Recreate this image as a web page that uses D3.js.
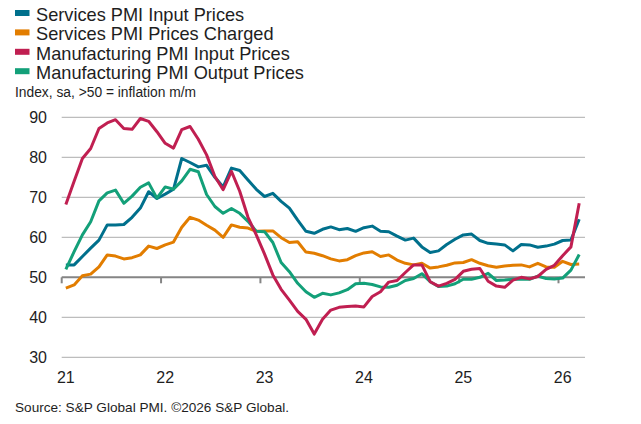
<!DOCTYPE html>
<html>
<head>
<meta charset="utf-8">
<script src="https://cdn.jsdelivr.net/npm/d3@7"></script>
<style>
  html, body { margin: 0; padding: 0; background: #fff; }
  svg { display: block; }
  text { font-family: "Liberation Sans", Arial, sans-serif; fill: #1e1e1e; }
</style>
</head>
<body>
<svg id="chart" width="641" height="424"></svg>
<script>
// ---- data (monthly, Jan 2021 - Mar 2026) ----
const startYear = 2021;
const yearLabels = ["21", "22", "23", "24", "25", "26"];
const yTicks = [30, 40, 50, 60, 70, 80, 90];

const seriesNames = [
  "Services PMI Input Prices",
  "Services PMI Prices Charged",
  "Manufacturing PMI Input Prices",
  "Manufacturing PMI Output Prices"
];
const seriesColors = ["#00708c", "#e27d00", "#c01f51", "#13a079"];

const servicesInput = [
  53.1, 53.1, 55.2, 57.3, 59.3, 63.1, 63.1, 63.2, 65.0, 67.3, 71.4, 69.7,
  70.8, 72.0, 79.7, 78.7, 77.6, 78.0, 75.0, 72.6, 77.3, 76.7, 74.3, 72.0,
  70.2, 71.0, 69.0, 67.3, 64.3, 61.5, 61.0, 62.0, 62.6, 61.9, 62.2, 61.5,
  62.4, 62.8, 61.5, 61.4, 60.3, 59.3, 59.8, 57.6, 56.2, 56.6, 58.2, 59.5,
  60.6, 60.8, 59.2, 58.5, 58.3, 58.1, 56.6, 58.2, 58.1, 57.5, 57.8, 58.3,
  59.2, 59.3, 64.5
];
const servicesCharged = [
  47.3, 48.1, 50.4, 50.8, 52.6, 55.6, 55.3, 54.6, 54.9, 55.6, 57.8, 57.2,
  58.1, 58.8, 62.5, 65.0, 64.3, 63.0, 61.8, 60.0, 63.1, 62.5, 62.3, 61.5,
  61.6, 61.6, 59.9, 58.7, 58.9, 56.3, 56.0, 55.4, 54.6, 54.1, 54.4, 55.4,
  56.1, 56.4, 55.2, 55.6, 54.3, 53.5, 53.1, 53.5, 52.3, 52.6, 53.0, 53.6,
  53.7, 54.4, 53.5, 52.9, 52.5, 52.8, 53.0, 53.1, 52.6, 53.5, 52.6, 52.5,
  54.0, 53.2, 53.3
];
const manufacturingInput = [
  68.2, 74.0, 79.7, 82.2, 87.2, 88.6, 89.4, 87.2, 87.0, 89.7, 89.0, 86.4,
  83.5, 82.3, 86.9, 87.7, 84.5, 80.6, 75.2, 71.9, 76.5, 71.5, 65.0, 60.6,
  55.8, 50.6, 47.0, 44.3, 41.5, 39.5, 35.8, 39.5, 41.8, 42.5, 42.7, 42.8,
  42.6, 45.2, 46.4, 48.8, 49.2, 51.2, 53.1, 53.1, 48.9, 47.8, 48.5, 49.5,
  51.5, 52.0, 52.2, 49.0, 47.8, 47.5, 49.3, 50.0, 49.6, 50.2, 52.0, 53.0,
  55.4, 57.6, 68.5
];
const manufacturingOutput = [
  52.0, 56.4, 60.6, 63.9, 69.1, 71.1, 71.8, 68.5, 70.3, 72.5, 73.6, 69.8,
  72.6, 72.0, 74.1, 77.0, 76.4, 70.7, 67.7, 66.0, 67.2, 66.0, 64.0, 61.5,
  61.4, 58.7, 53.7, 51.4, 48.5, 46.4, 45.0, 46.0, 45.6, 46.1, 46.9, 48.4,
  48.5, 48.2, 47.6, 47.5, 48.0, 49.2, 49.7, 50.9, 48.9, 47.7, 47.8, 48.4,
  49.5, 49.5, 50.0, 51.0, 49.2, 49.3, 49.5, 49.5, 49.5, 50.3, 49.7, 49.6,
  49.8, 51.8, 55.7
];

const axisNote = "Index, sa, >50 = inflation m/m";
const sourceNote = "Source: S&P Global PMI. \u00A92026 S&P Global.";

// ---- drawing ----
const svg = d3.select("#chart");
const allSeries = [servicesInput, servicesCharged, manufacturingInput, manufacturingOutput];

// months since Jan 2021; points are plotted mid-month
const x = d3.scaleLinear().domain([0, 63.2]).range([61.7, 585]);
const y = d3.scaleLinear().domain([30, 90]).range([357.3, 117.3]);

// gridlines
const grid = svg.append("g");
grid.selectAll("line")
  .data(yTicks.filter(v => v !== 50))
  .join("line")
  .attr("x1", x.range()[0]).attr("x2", x.range()[1])
  .attr("y1", d => y(d)).attr("y2", d => y(d))
  .attr("stroke", "#bdbdbd").attr("stroke-width", 1.2);

// y labels
svg.append("g").selectAll("text")
  .data(yTicks)
  .join("text")
  .attr("x", 47).attr("y", d => y(d) + 5.6)
  .attr("text-anchor", "end")
  .attr("font-size", 16)
  .text(d => d);

// x axis at 50
const yearTicks = yearLabels.map((_, i) => i * 12);
svg.append("line")
  .attr("x1", x.range()[0]).attr("x2", x.range()[1])
  .attr("y1", y(50)).attr("y2", y(50))
  .attr("stroke", "#858585").attr("stroke-width", 2);
svg.append("g").selectAll("line")
  .data(yearTicks)
  .join("line")
  .attr("x1", d => x(d)).attr("x2", d => x(d))
  .attr("y1", y(50)).attr("y2", y(50) + 6)
  .attr("stroke", "#858585").attr("stroke-width", 2);

// x labels (under the January point)
svg.append("g").selectAll("text")
  .data(yearLabels)
  .join("text")
  .attr("x", (d, i) => x(i * 12 + 0.5))
  .attr("y", 383)
  .attr("text-anchor", "middle")
  .attr("font-size", 16)
  .text(d => d);

// lines
const line = d3.line()
  .x((d, i) => x(i + 0.5))
  .y(d => y(d));
const drawOrder = [0, 1, 3, 2];
svg.append("g").selectAll("path")
  .data(drawOrder)
  .join("path")
  .attr("d", k => line(allSeries[k]))
  .attr("fill", "none")
  .attr("stroke", k => seriesColors[k])
  .attr("stroke-width", 3)
  .attr("stroke-linejoin", "round")
  .attr("stroke-linecap", "butt");

// legend
const lg = svg.append("g");
seriesNames.forEach((name, i) => {
  const base = 21 + i * 19.4;
  lg.append("rect")
    .attr("x", 15).attr("y", base - 11)
    .attr("width", 14.5).attr("height", 6)
    .attr("fill", seriesColors[i]);
  lg.append("text")
    .attr("x", 36).attr("y", base)
    .attr("font-size", 18.2)
    .text(name);
});
svg.append("text")
  .attr("x", 15).attr("y", 96.5)
  .attr("font-size", 13.8)
  .attr("fill", "#333")
  .text(axisNote);

svg.append("text")
  .attr("x", 15).attr("y", 412)
  .attr("font-size", 13.6)
  .attr("fill", "#333")
  .text(sourceNote);
</script>
</body>
</html>
